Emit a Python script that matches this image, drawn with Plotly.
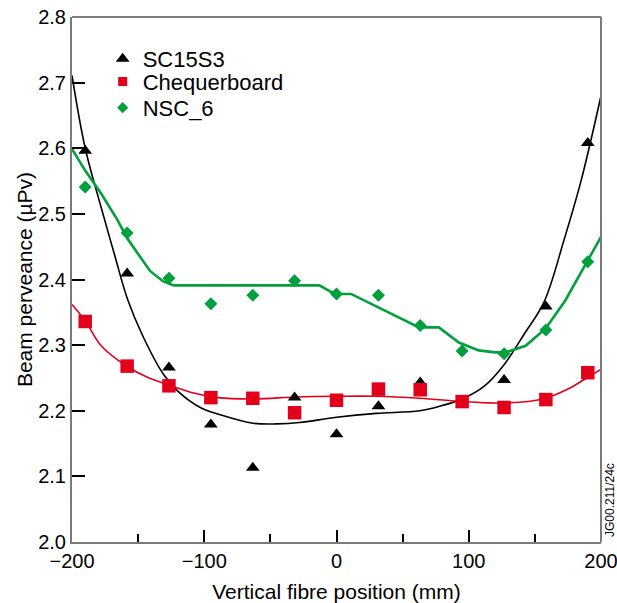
import plotly.graph_objects as go

# Fibre positions (mm) at which the beam perveance was measured
positions = [-190, -158.3, -126.7, -95, -63.3, -31.7, 0, 31.7, 63.3, 95, 126.7, 158.3, 190]
sc15s3_positions = [-190, -158.3, -126.7, -95, -63.3, -31.7, 0, 31.7, 63.3, 126.7, 158.3, 190]

# Measured beam perveance (µPv)
sc15s3 = [2.596, 2.409, 2.266, 2.179, 2.113, 2.220, 2.164, 2.207, 2.243, 2.247, 2.359, 2.608]
chequerboard = [2.336, 2.268, 2.238, 2.220, 2.219, 2.197, 2.216, 2.233, 2.232, 2.214, 2.205, 2.217, 2.258]
nsc6 = [2.541, 2.471, 2.402, 2.363, 2.376, 2.398, 2.378, 2.376, 2.330, 2.291, 2.287, 2.323, 2.427]

# Fitted trend curves
sc15s3_fit_x = [-200, -190, -178, -168, -158, -146, -131, -120, -103, -88, -63, -45, -28, 0,
                30, 63, 80, 95, 112, 127, 142, 157, 172, 185, 200]
sc15s3_fit_y = [2.711, 2.600, 2.510, 2.439, 2.370, 2.312, 2.256, 2.230, 2.205, 2.194, 2.181, 2.180,
                2.182, 2.190, 2.196, 2.200, 2.208, 2.218, 2.238, 2.271, 2.317, 2.366, 2.460, 2.551, 2.680]

cheq_fit_x = [-200, -190, -178, -158, -143, -128, -108, -90, -63, -30, 0, 30, 63, 95, 115, 127,
              145, 158, 175, 190, 200]
cheq_fit_y = [2.362, 2.337, 2.299, 2.267, 2.251, 2.240, 2.227, 2.220, 2.218, 2.221, 2.222, 2.222,
              2.219, 2.214, 2.212, 2.212, 2.214, 2.219, 2.233, 2.251, 2.263]

nsc6_fit_x = [-200, -190, -178, -166, -158, -148, -141, -131, -123, -13, -1.5, 11, 62.4, 77.4,
              92.5, 107.5, 120, 128, 143, 158, 173, 190, 200]
nsc6_fit_y = [2.599, 2.566, 2.531, 2.492, 2.462, 2.432, 2.413, 2.397, 2.391, 2.391, 2.378, 2.378,
              2.327, 2.327, 2.304, 2.292, 2.289, 2.289, 2.299, 2.325, 2.368, 2.429, 2.465]

x_ticks = [-200, -100, 0, 100, 200]
y_ticks = [2.0, 2.1, 2.2, 2.3, 2.4, 2.5, 2.6, 2.7, 2.8]

BLACK = "#000000"
RED = "#E2001A"
GREEN = "#00A03C"
AXIS_GREY = "#7a7a7a"
FONT = "Liberation Sans, Arial, sans-serif"

fig = go.Figure()

# Fit lines
fig.add_trace(go.Scatter(x=sc15s3_fit_x, y=sc15s3_fit_y, mode="lines", line_shape="spline",
                         line=dict(color=BLACK, width=1.6), showlegend=False, hoverinfo="skip"))
fig.add_trace(go.Scatter(x=cheq_fit_x, y=cheq_fit_y, mode="lines", line_shape="spline",
                         line=dict(color=RED, width=1.6), showlegend=False, hoverinfo="skip"))
fig.add_trace(go.Scatter(x=nsc6_fit_x, y=nsc6_fit_y, mode="lines", line_shape="linear",
                         line=dict(color=GREEN, width=2.6), showlegend=False, hoverinfo="skip"))

# Measured points
fig.add_trace(go.Scatter(x=sc15s3_positions, y=sc15s3, mode="markers", showlegend=False,
                         marker=dict(symbol="triangle-up", size=12, color=BLACK)))
fig.add_trace(go.Scatter(x=positions, y=chequerboard, mode="markers", showlegend=False,
                         marker=dict(symbol="square", size=13.5, color=RED)))
fig.add_trace(go.Scatter(x=positions, y=nsc6, mode="markers", showlegend=False,
                         marker=dict(symbol="diamond", size=10, color=GREEN)))

# Legend entries, one legend box per entry so the rows can be spaced freely
fig.add_trace(go.Scatter(x=[None], y=[None], mode="markers", name="SC15S3", legend="legend",
                         marker=dict(symbol="triangle-up", size=12, color=BLACK)))
fig.add_trace(go.Scatter(x=[None], y=[None], mode="markers", name="Chequerboard", legend="legend2",
                         marker=dict(symbol="square", size=9, color=RED)))
fig.add_trace(go.Scatter(x=[None], y=[None], mode="markers", name="NSC_6", legend="legend3",
                         marker=dict(symbol="diamond", size=8.5, color=GREEN)))

legend_style = dict(x=0.058, xanchor="left", yanchor="top",
                    font=dict(size=22, family=FONT, color=BLACK),
                    bgcolor="rgba(0,0,0,0)", borderwidth=0)

fig.update_layout(
    width=617, height=603,
    margin=dict(l=72, r=16, t=17, b=61),
    paper_bgcolor="white", plot_bgcolor="white",
    font=dict(family=FONT, color=BLACK, size=20),
    showlegend=True,
    legend=dict(y=0.960, **legend_style),
    legend2=dict(y=0.917, **legend_style),
    legend3=dict(y=0.867, **legend_style),
    xaxis=dict(
        range=[-200, 200], tickvals=x_ticks, automargin=False, ticklabeloverflow="allow",
        ticks="inside", ticklen=12, tickwidth=1.5, tickcolor=BLACK,
        minor=dict(ticks="inside", ticklen=8, tickwidth=1.5, tickcolor=BLACK, dtick=50, tick0=0),
        showline=True, linecolor=AXIS_GREY, linewidth=2, mirror=False,
        showgrid=False, zeroline=False,
        tickfont=dict(size=20, family=FONT, color=BLACK),
        title=dict(text="Vertical fibre position (mm)", font=dict(size=21, family=FONT), standoff=16),
    ),
    yaxis=dict(
        range=[2.0, 2.8], tickvals=y_ticks, tickformat=".1f", automargin=False,
        ticks="inside", ticklen=13, tickwidth=1.5, tickcolor=BLACK,
        showline=True, linecolor=AXIS_GREY, linewidth=2, mirror=False,
        showgrid=False, zeroline=False,
        tickfont=dict(size=20, family=FONT, color=BLACK),
        title=dict(text="Beam perveance (µPv)", font=dict(size=21, family=FONT), standoff=0),
    ),
    shapes=[
        dict(type="line", xref="paper", yref="paper", x0=0, x1=1, y0=1, y1=1,
             line=dict(color=BLACK, width=1.2)),
        dict(type="line", xref="paper", yref="paper", x0=1, x1=1, y0=0, y1=1,
             line=dict(color=AXIS_GREY, width=2)),
    ],
    annotations=[
        dict(text="JG00.211/24c", xref="paper", yref="paper", x=1.0, y=0.0,
             xanchor="center", yanchor="bottom", xshift=9, yshift=3, textangle=-90,
             showarrow=False, font=dict(size=12, family=FONT, color=BLACK)),
    ],
)

fig.write_html("out.html")
